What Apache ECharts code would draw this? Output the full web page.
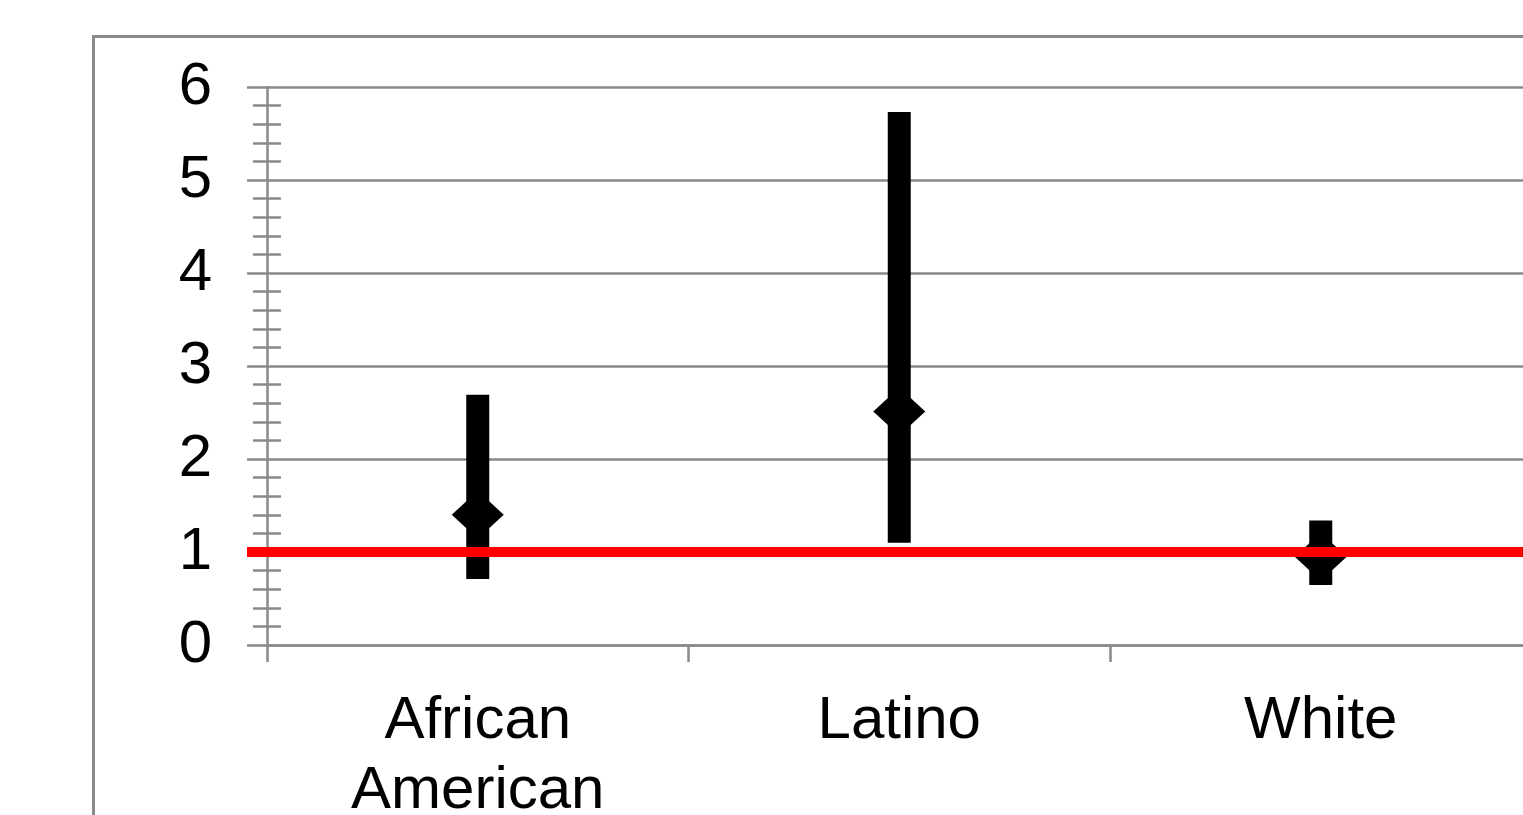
<!DOCTYPE html>
<html>
<head>
<meta charset="utf-8">
<title>Odds ratios by group</title>
<script src="https://cdn.jsdelivr.net/npm/echarts@6/dist/echarts.min.js"></script>
<style>
  html, body { margin: 0; padding: 0; background: #fff; }
  #chart { width: 1523px; height: 815px; }
</style>
</head>
<body>
<div id="chart"></div>
<script>
// Groups on the horizontal axis
const categories = ['African\nAmerican', 'Latino', 'White'];
// Point estimates (diamonds)
const estimates = [1.40, 2.51, 0.95];
// Confidence interval bounds (vertical bars)
const lowerBounds = [0.71, 1.10, 0.645];
const upperBounds = [2.69, 5.73, 1.34];
// Reference line (no effect)
const referenceValue = 1;
// Value axis range
const yMin = 0;
const yMax = 6;
const yStep = 1;

const FONT = "'Liberation Sans', Arial, sans-serif";
const GRAY = '#8a8a8a';

const chart = echarts.init(document.getElementById('chart'), null, { renderer: 'canvas' });

const intervalData = categories.map((c, i) => [i, lowerBounds[i], upperBounds[i]]);

chart.setOption({
  backgroundColor: '#ffffff',
  animation: false,
  graphic: [{
    type: 'rect',
    z: -10,
    shape: { x: 93.5, y: 36.5, width: 2000, height: 2000 },
    style: { fill: 'none', stroke: GRAY, lineWidth: 3 }
  }],
  grid: {
    left: 267, top: 87, bottom: 170, right: -8.5,
    containLabel: false,
    outerBoundsMode: 'none'
  },
  xAxis: {
    type: 'category',
    data: categories,
    boundaryGap: true,
    axisLine: { show: true, lineStyle: { color: GRAY, width: 2.5 } },
    axisTick: { show: true, length: 17, lineStyle: { color: GRAY, width: 2.5 } },
    axisLabel: {
      color: '#000', fontFamily: FONT, fontSize: 60, lineHeight: 70, margin: 41,
      interval: 0
    },
    splitLine: { show: false }
  },
  yAxis: [{
    type: 'value',
    min: yMin, max: yMax, interval: yStep,
    axisLine: { show: true, lineStyle: { color: GRAY, width: 2.5 } },
    axisTick: { show: true, length: 20, lineStyle: { color: GRAY, width: 2.5 } },
    minorTick: { show: true, splitNumber: 5, length: 14, lineStyle: { color: GRAY, width: 2.5 } },
    axisLabel: { color: '#000', fontFamily: FONT, fontSize: 60, margin: 55 },
    splitLine: { show: true, lineStyle: { color: GRAY, width: 2.5 } }
  }, {
    // inner half of the crossing minor ticks
    type: 'value',
    position: 'left',
    min: yMin, max: yMax, interval: yStep,
    axisLine: { show: false },
    axisTick: { show: false, inside: true },
    minorTick: { show: true, splitNumber: 5, length: 14, lineStyle: { color: GRAY, width: 2.5 } },
    axisLabel: { show: false },
    splitLine: { show: false }
  }],
  series: [{
    type: 'custom',
    name: 'interval',
    z: 2,
    data: intervalData,
    encode: { x: 0, y: [1, 2] },
    renderItem: function (params, api) {
      const idx = api.value(0);
      const lo = api.coord([idx, api.value(1)]);
      const hi = api.coord([idx, api.value(2)]);
      const w = 23;
      return {
        type: 'rect',
        shape: { x: lo[0] - w / 2, y: hi[1], width: w, height: lo[1] - hi[1] },
        style: { fill: '#000' }
      };
    }
  }, {
    type: 'scatter',
    name: 'estimate',
    z: 3,
    data: estimates,
    symbol: 'diamond',
    symbolSize: [52, 48],
    itemStyle: { color: '#000', opacity: 1 }
  }, {
    type: 'line',
    name: 'reference',
    z: 10,
    data: [],
    markLine: {
      silent: true,
      symbol: ['none', 'none'],
      label: { show: false },
      lineStyle: { color: '#ff0000', width: 10, type: 'solid', opacity: 1 },
      data: [[{ x: 247, yAxis: referenceValue }, { x: 1523, yAxis: referenceValue }]]
    }
  }]
});
</script>
</body>
</html>
